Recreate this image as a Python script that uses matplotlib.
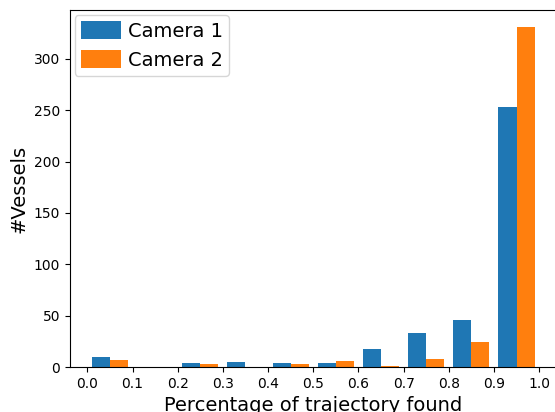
import numpy as np
import matplotlib
matplotlib.use("Agg")
import matplotlib.pyplot as plt

# fraction of each vessel's trajectory found, in 10 bins from 0 to 1
bin_edges = np.linspace(0.0, 1.0, 11)
bin_centers = (bin_edges[:-1] + bin_edges[1:]) / 2
camera1 = [10, 0, 4, 5, 4, 4, 18, 33, 46, 253]
camera2 = [7, 0, 3, 0, 3, 6, 1, 8, 24, 331]
labels = ["Camera 1", "Camera 2"]

fig = plt.figure(figsize=(5.55, 4.12), dpi=100)
ax = fig.add_axes([0.1256, 0.1092, 0.8775, 0.8665])

ax.hist([bin_centers, bin_centers], bins=bin_edges,
        weights=[camera1, camera2], label=labels)

ax.set_xticks(np.arange(0, 1.01, 0.1))
ax.set_xlabel("Percentage of trajectory found", fontsize=14)
ax.set_ylabel("#Vessels", fontsize=14)
ax.legend(loc="upper left", fontsize=14, borderpad=0.33, borderaxespad=0.25,
          handlelength=2.05, handleheight=1.0, handletextpad=0.35,
          labelspacing=0.5)

fig.savefig("out.png", dpi=100)
